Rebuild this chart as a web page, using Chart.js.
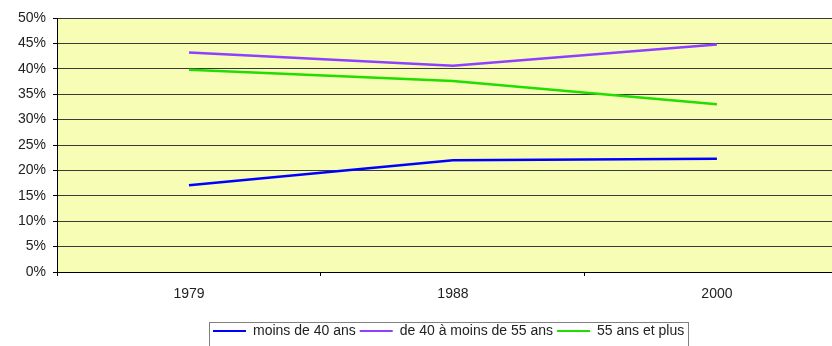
<!DOCTYPE html>
<html>
<head>
<meta charset="utf-8">
<script src="https://cdn.jsdelivr.net/npm/chart.js@4/dist/chart.umd.min.js"></script>
<style>
  html, body { margin: 0; padding: 0; background: #fff; overflow: hidden; }
  #wrap { position: relative; width: 832px; height: 346px; overflow: hidden; }
  #wrap canvas { display: block; }
</style>
</head>
<body>
<div id="wrap"><canvas id="c" width="832" height="348"></canvas></div>
<script>
// ---- data ----
const years = ['1979', '1988', '2000'];
const seriesNames = ['moins de 40 ans', 'de 40 à moins de 55 ans', '55 ans et plus'];
const moins40 = [17.1, 22.0, 22.3];
const de40a55 = [43.2, 40.6, 44.8];
const plus55 = [39.8, 37.6, 33.0];
const yTicks = [0, 5, 10, 15, 20, 25, 30, 35, 40, 45, 50];

const colors = ['#0000FF', '#8F3FFF', '#22DD00'];
const seriesValues = [moins40, de40a55, plus55];

const FONT = 'Liberation Sans, Arial, sans-serif';
const LEGEND_START = 213;
const LEGEND_PAD = 4;

const bgPlugin = {
  id: 'plotBg',
  beforeDraw(chart) {
    const a = chart.chartArea, ctx = chart.ctx;
    ctx.save();
    ctx.fillStyle = '#F7FDB5';
    ctx.fillRect(a.left, a.top, a.right - a.left, a.bottom - a.top);
    ctx.restore();
    // place legend so its first item starts where the original one does
    const lg = chart.legend;
    if (lg) lg.left = LEGEND_START - LEGEND_PAD;
  }
};

const legendBorder = {
  id: 'legendBorder',
  afterDraw(chart) {
    const lg = chart.legend;
    if (!lg || !lg.lineWidths) return;
    const l = lg.left + LEGEND_PAD;
    const w = lg.lineWidths[0] - LEGEND_PAD;
    const t = lg.top + LEGEND_PAD;
    const ctx = chart.ctx;
    ctx.save();
    ctx.strokeStyle = '#808080';
    ctx.lineWidth = 1;
    ctx.strokeRect(Math.round(l - 4) + 0.5, Math.round(t - 2) + 0.5, Math.round(w + 8), 60);
    ctx.restore();
  }
};

new Chart(document.getElementById('c'), {
  type: 'line',
  data: {
    datasets: seriesNames.map((name, s) => ({
      label: name,
      data: years.map((_, i) => ({ x: i, y: seriesValues[s][i] })),
      borderColor: colors[s],
      backgroundColor: colors[s],
      borderWidth: 2.5,
      pointRadius: 0,
      tension: 0,
      fill: false
    }))
  },
  options: {
    responsive: false,
    animation: false,
    events: [],
    layout: { padding: { top: 18, right: 0, bottom: 0, left: 0 } },
    scales: {
      x: {
        type: 'linear',
        min: -0.5,
        max: 2.436,
        afterBuildTicks(scale) {
          scale.ticks = [-0.5, 0, 0.5, 1, 1.5, 2].map(v => ({ value: v }));
        },
        afterFit(scale) { scale.height = 48; },
        ticks: {
          autoSkip: false,
          maxRotation: 0,
          padding: 10,
          color: '#222',
          font: { family: FONT, size: 14 },
          callback: v => Number.isInteger(v) ? years[v] : ''
        },
        grid: {
          drawOnChartArea: false,
          tickLength: 4,
          tickColor: ctx => (ctx.tick && !Number.isInteger(ctx.tick.value)) ? '#000' : 'rgba(0,0,0,0)'
        },
        border: { color: '#000', width: 1 }
      },
      y: {
        min: 0,
        max: 50,
        afterBuildTicks(scale) {
          scale.ticks = yTicks.map(v => ({ value: v }));
        },
        afterFit(scale) { scale.width = 57; },
        ticks: {
          padding: 7,
          color: '#222',
          font: { family: FONT, size: 14 },
          callback: v => v + '%'
        },
        grid: {
          color: '#3a3a3a',
          lineWidth: 1,
          tickLength: 4,
          tickColor: '#000'
        },
        border: { color: '#000', width: 1 }
      }
    },
    plugins: {
      tooltip: { enabled: false },
      legend: {
        position: 'bottom',
        align: 'start',
        labels: {
          boxWidth: 33,
          boxHeight: 2,
          padding: LEGEND_PAD,
          color: '#222',
          font: { family: FONT, size: 14 },
          generateLabels(chart) {
            const items = Chart.defaults.plugins.legend.labels.generateLabels(chart);
            items.forEach(it => { it.lineWidth = 0; });
            return items;
          }
        }
      }
    }
  },
  plugins: [bgPlugin, legendBorder]
});
</script>
</body>
</html>
